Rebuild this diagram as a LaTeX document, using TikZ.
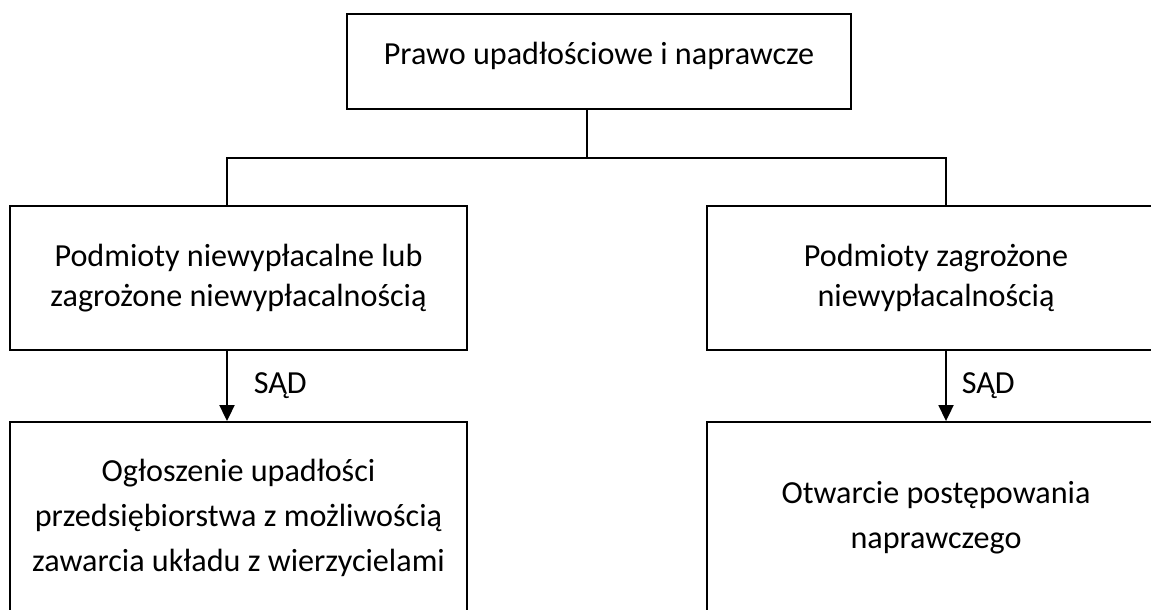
\documentclass[tikz,border=0pt]{standalone}
\usepackage{fontspec}
\setmainfont{Carlito}
\usetikzlibrary{arrows.meta}
\tikzset{
  box/.style={draw=black, line width=1.1pt, align=center, font=\fontsize{18.3}{22.8}\selectfont},
  lowbox/.style={box, minimum width=9.16cm, minimum height=3.84cm, font=\fontsize{18.3}{25.6}\selectfont},
  sad/.style={font=\fontsize{18.3}{20}\selectfont},
  arr/.style={-{Triangle[length=0.32cm,width=0.3cm]}}
}

\begin{document}
\begin{tikzpicture}[x=0.02cm,y=-0.02cm,line width=1.1pt]
\clip (0,0) rectangle (1151,609);
% top
\node[box, minimum width=10.08cm, minimum height=1.9cm, text height=0.5cm, text depth=0.4cm] (prawo) at (599,61.5) {Prawo upadłościowe i naprawcze};
% middle row
\node[box, minimum width=9.16cm, minimum height=2.88cm] (niewyp) at (238.5,278) {Podmioty niewypłacalne lub\\zagrożone niewypłacalnością};
\node[box, minimum width=9.16cm, minimum height=2.88cm] (zagroz) at (936,278) {Podmioty zagrożone\\niewypłacalnością};
% bottom row
\node[lowbox] (ogloszenie) at (238.5,518) {Ogłoszenie upadłości\\przedsiębiorstwa z możliwością\\zawarcia układu z wierzycielami};
\node[lowbox] (otwarcie) at (936,518) {Otwarcie postępowania\\naprawczego};
\coordinate (split) at (587,158);
\coordinate (jl) at (227,158);
\coordinate (jr) at (946,158);
\draw (prawo.south -| split)--(split);
\draw (niewyp.north -| jl)--(jl)--(jr)--(zagroz.north -| jr);
\draw[arr] (niewyp.south -| jl)--(ogloszenie.north -| jl)node[sad, midway, right=0.4cm]{SĄD};
\draw[arr] (zagroz.south -| jr)--(otwarcie.north -| jr)node[sad, midway, right=0.18cm]{SĄD};
\end{tikzpicture}
\end{document}
